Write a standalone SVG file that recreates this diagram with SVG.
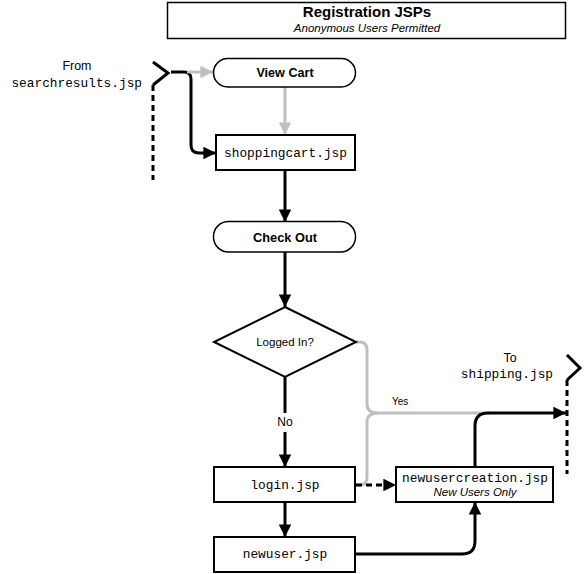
<svg xmlns="http://www.w3.org/2000/svg" width="584" height="574" viewBox="0 0 584 574">
<style>
.box{fill:#fff;stroke:#000;stroke-width:2}
.term{fill:#fff;stroke:#000;stroke-width:1.5}
.mono{font-family:"Liberation Mono","Courier New",monospace;font-size:12.8px;fill:#000}
.sans{font-family:"Liberation Sans",Arial,sans-serif;fill:#000}
.blk{fill:none;stroke:#000;stroke-width:3}
.gry{fill:none;stroke:#c0c0c0;stroke-width:3}
.dash{stroke-dasharray:6 4}
</style>
<defs>
<marker id="ab" viewBox="0 0 10 10" refX="10" refY="5" markerWidth="4.2" markerHeight="4.2" markerUnits="strokeWidth" orient="auto"><path d="M0,0L10,5L0,10z" fill="#000"/></marker>
<marker id="ag" viewBox="0 0 10 10" refX="10" refY="5" markerWidth="4.2" markerHeight="4.2" markerUnits="strokeWidth" orient="auto"><path d="M0,0L10,5L0,10z" fill="#c0c0c0"/></marker>
</defs>
<rect width="584" height="574" fill="#fff"/>
<g id="title">
<rect x="167.5" y="2.5" width="398" height="36" fill="#fff" stroke="#000" stroke-width="1.5"/>
<text x="367" y="17" text-anchor="middle" class="sans" font-size="15" font-weight="bold">Registration JSPs</text>
<text x="367" y="32" text-anchor="middle" class="sans" font-size="11.5" font-style="italic">Anonymous Users Permitted</text>
</g>
<g id="connectors">
<path class="blk" d="M171,72H184Q191,72 191,79V145Q191,153 199,153H216" marker-end="url(#ab)"/>
<path class="gry" d="M187,72H213" marker-end="url(#ag)"/>
<path class="gry" d="M285,87V135" marker-end="url(#ag)"/>
<path class="blk" d="M285,170V222" marker-end="url(#ab)"/>
<path class="blk" d="M285,252V307" marker-end="url(#ab)"/>
<path class="blk" d="M285,377V413M285,432V467" marker-end="url(#ab)"/>
<path class="blk" d="M285,502V537" marker-end="url(#ab)"/>
<path class="gry" d="M356,342H360Q367,342 367,350V404Q367,413 378,413H490"/>
<path class="gry" d="M356,485H360Q367,485 367,477V422Q367,413 378,413"/>
<path class="blk dash" d="M356,485H396" marker-end="url(#ab)"/>
<path class="blk" d="M355,554H462Q475,554 475,541V502" marker-end="url(#ab)"/>
<path class="blk" d="M475,467V426Q475,413 488,413H566" marker-end="url(#ab)"/>
<path class="blk" d="M153,62L168,73L153,85"/>
<path class="blk dash" d="M153,85V180"/>
<path class="blk" d="M567,355L580,368L567,380"/>
<path class="blk dash" d="M567,380V474"/>
<text x="392" y="405" class="sans" font-size="10">Yes</text>
<text x="285" y="426" text-anchor="middle" class="sans" font-size="12">No</text>
</g>
<g id="from">
<text x="77" y="70" text-anchor="middle" class="sans" font-size="12.4">From</text>
<text x="142" y="87" text-anchor="end" class="mono">searchresults.jsp</text>
</g>
<g id="to">
<text x="510" y="362" text-anchor="middle" class="sans" font-size="12.4">To</text>
<text x="553" y="378" text-anchor="end" class="mono">shipping.jsp</text>
</g>
<g id="viewcart">
<rect x="213.5" y="58.5" width="142" height="28.5" rx="14.25" class="term" stroke-width="1.2"/>
<text x="285" y="77" text-anchor="middle" class="sans" font-size="12.6" font-weight="bold">View Cart</text>
</g>
<g id="shoppingcart">
<rect x="216" y="135" width="139" height="35" class="box"/>
<text x="285.5" y="157" text-anchor="middle" class="mono">shoppingcart.jsp</text>
</g>
<g id="checkout">
<rect x="213.5" y="221.5" width="142" height="30.5" rx="15" class="term" stroke-width="2"/>
<text x="285" y="241.5" text-anchor="middle" class="sans" font-size="12.8" font-weight="bold">Check Out</text>
</g>
<g id="loggedin">
<path d="M285,307L356,342L285,377L214,342Z" fill="#fff" stroke="#000" stroke-width="2"/>
<text x="285" y="346" text-anchor="middle" class="sans" font-size="11.5">Logged In?</text>
</g>
<g id="login">
<rect x="214" y="467" width="141" height="35" class="box"/>
<text x="285" y="489" text-anchor="middle" class="mono">login.jsp</text>
</g>
<g id="newuser">
<rect x="214" y="537" width="141" height="35" class="box"/>
<text x="285" y="558" text-anchor="middle" class="mono">newuser.jsp</text>
</g>
<g id="newusercreation">
<rect x="396" y="467" width="157" height="35" class="box"/>
<text x="475" y="482" text-anchor="middle" class="mono">newusercreation.jsp</text>
<text x="475" y="496" text-anchor="middle" class="sans" font-size="11.5" font-style="italic">New Users Only</text>
</g>
</svg>
